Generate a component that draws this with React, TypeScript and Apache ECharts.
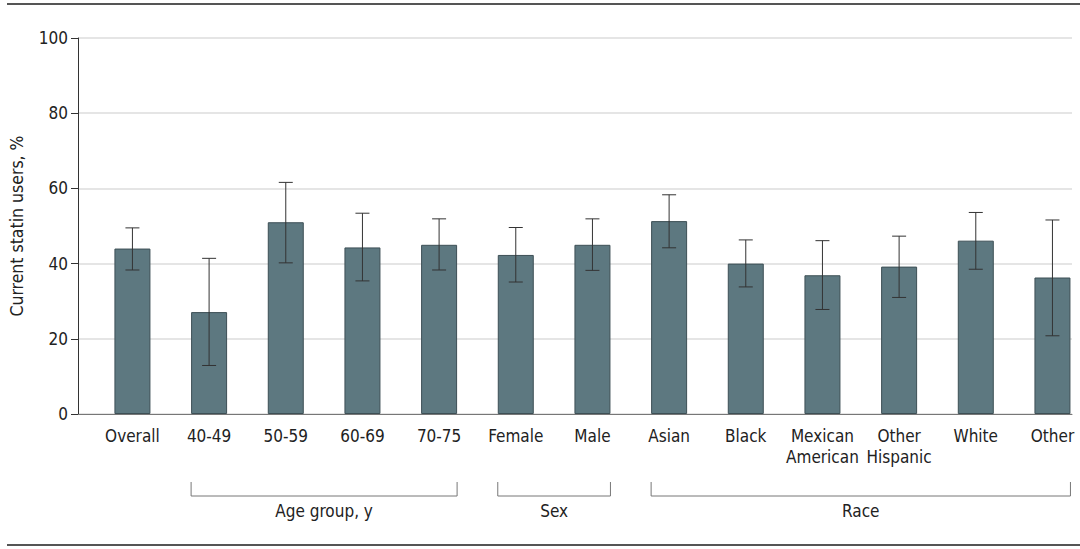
import React, { useEffect, useRef } from "react";
import * as echarts from "echarts";

const categories = [
  "Overall", "40-49", "50-59", "60-69", "70-75", "Female", "Male",
  "Asian", "Black", "Mexican\nAmerican", "Other\nHispanic", "White", "Other",
];
const values = [44.0, 27.1, 51.0, 44.3, 45.0, 42.3, 45.0, 51.3, 40.0, 36.9, 39.2, 46.1, 36.3];
const lower = [38.3, 12.9, 40.2, 35.4, 38.3, 35.1, 38.2, 44.2, 33.8, 27.8, 31.0, 38.5, 20.8];
const upper = [49.5, 41.4, 61.6, 53.4, 51.9, 49.6, 51.9, 58.3, 46.3, 46.1, 47.3, 53.6, 51.6];
const groups = [
  { name: "Age group, y", start: 1, end: 4 },
  { name: "Sex", start: 5, end: 6 },
  { name: "Race", start: 7, end: 12 },
];
const yTicks = [0, 20, 40, 60, 80, 100];

const FONT = "'Liberation Sans Narrow', 'DejaVu Sans Condensed', 'Noto Sans', sans-serif";
const BAR_W = 36;
const FS = 17;

export default function App() {
  const ref = useRef<HTMLDivElement>(null);
  useEffect(() => {
    if (!ref.current) return;
    const chart = echarts.init(ref.current, null, { renderer: "svg" });
    chart.setOption({
      animation: false,
      textStyle: { fontFamily: FONT },
      grid: { left: 76, right: 8, top: 38, bottom: 135, containLabel: false },
      xAxis: {
        type: "value",
        min: -0.71,
        max: 12.255,
        axisLine: { show: true, onZero: false, lineStyle: { color: "#777", width: 1 } },
        axisTick: { show: false },
        splitLine: { show: false },
        axisLabel: {
          customValues: categories.map((_, i) => i),
          formatter: (v: number) => categories[Math.round(v)] ?? "",
          color: "#222",
          fontSize: FS,
          fontFamily: FONT,
          margin: 11,
          lineHeight: 21,
          verticalAlign: "top",
          showMinLabel: true,
          showMaxLabel: true,
        },
      },
      yAxis: {
        type: "value",
        min: 0,
        max: 100,
        interval: 20,
        name: "Current statin users, %",
        nameLocation: "middle",
        nameGap: 52,
        nameTextStyle: { color: "#222", fontSize: 17.5, fontFamily: FONT },
        axisLine: { show: true, onZero: false, lineStyle: { color: "#333", width: 1 } },
        axisTick: { show: true, length: 7, lineStyle: { color: "#333" } },
        axisLabel: {
          color: "#222",
          fontSize: FS,
          fontFamily: FONT,
          margin: 10,
          customValues: yTicks,
        },
        splitLine: { show: true, lineStyle: { color: "#dcdcdc", width: 1.5 } },
      },
      series: [
        {
          type: "bar",
          barWidth: BAR_W,
          data: values.map((v, i) => [i, v]),
          itemStyle: { color: "#5d7880", borderColor: "#3d4f55", borderWidth: 1 },
        },
        {
          type: "custom",
          data: lower.map((l, i) => [i, l, upper[i]]),
          renderItem: (_p: any, api: any) => {
            const x = api.value(0);
            const lo = api.coord([x, api.value(1)]);
            const hi = api.coord([x, api.value(2)]);
            const cw = 7;
            const st = { stroke: "#333", lineWidth: 1 };
            return {
              type: "group",
              children: [
                { type: "line", shape: { x1: lo[0], y1: lo[1], x2: hi[0], y2: hi[1] }, style: st },
                { type: "line", shape: { x1: hi[0] - cw, y1: hi[1], x2: hi[0] + cw, y2: hi[1] }, style: st },
                { type: "line", shape: { x1: lo[0] - cw, y1: lo[1], x2: lo[0] + cw, y2: lo[1] }, style: st },
              ],
            };
          },
          z: 5,
        },
        {
          type: "custom",
          clip: false,
          data: groups.map((g) => [g.start, g.end]),
          renderItem: (p: any, api: any) => {
            const g = groups[p.dataIndex];
            const a = api.coord([api.value(0), 0]);
            const b = api.coord([api.value(1), 0]);
            const x1 = a[0] - BAR_W / 2;
            const x2 = b[0] + BAR_W / 2;
            const yTop = a[1] + 68;
            const yBot = a[1] + 82;
            return {
              type: "group",
              children: [
                {
                  type: "polyline",
                  shape: { points: [[x1, yTop], [x1, yBot], [x2, yBot], [x2, yTop]] },
                  style: { stroke: "#777", lineWidth: 1, fill: null },
                },
                {
                  type: "text",
                  x: (x1 + x2) / 2,
                  y: yBot + 15,
                  style: {
                    text: g.name,
                    fill: "#222",
                    fontSize: FS,
                    fontFamily: FONT,
                    align: "center",
                    verticalAlign: "middle",
                  },
                },
              ],
            };
          },
        },
      ],
      graphic: [
        { type: "line", shape: { x1: 7, y1: 4, x2: 1080, y2: 4 }, style: { stroke: "#555", lineWidth: 2 } },
        { type: "line", shape: { x1: 7, y1: 545, x2: 1080, y2: 545 }, style: { stroke: "#555", lineWidth: 2 } },
      ],
    });
    return () => chart.dispose();
  }, []);
  return <div ref={ref} style={{ position: "absolute", left: 0, top: 0, width: 1080, height: 549 }} />;
}
